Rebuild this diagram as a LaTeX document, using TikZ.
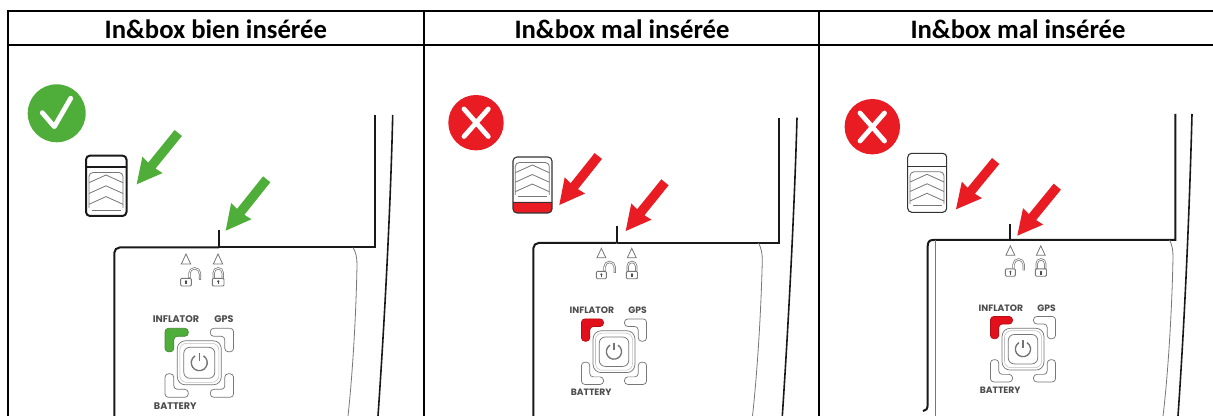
\documentclass[tikz,border=0pt]{standalone}
\usepackage{fontspec}
\setmainfont{Carlito}
\newfontfamily\devfont{Poppins}
\definecolor{okgreen}{HTML}{4FAE3A}
\definecolor{badred}{HTML}{E91C24}
\definecolor{ledred}{HTML}{E2101A}
\definecolor{thingrey}{HTML}{777777}
\tikzset{
  gridline/.style={draw=black,line width=1.5pt},
  devline/.style={draw=black!90,line width=1.5pt},
  thinline/.style={draw=thingrey,line width=.6pt},
  iconline/.style={draw=thingrey,line width=.55pt},
  head/.style={font=\fontsize{20}{22}\selectfont\bfseries,text=black,anchor=center,inner sep=0pt},
  devlabel/.style={font=\devfont\fontsize{#1}{#1}\selectfont\bfseries,text=black!70,anchor=center,inner sep=0pt},
}
\newcommand{\bigarrow}[5]{%
  \pgfmathsetmacro\adx{#3-#1}\pgfmathsetmacro\ady{#4-#2}%
  \pgfmathsetmacro\alen{veclen(\adx,\ady)}%
  \pgfmathsetmacro\aux{\adx/\alen}\pgfmathsetmacro\auy{\ady/\alen}%
  \fill[#5] (#3,#4)
    -- ({#3-\aux*25-\auy*13},{#4-\auy*25+\aux*13})
    -- ({#3-\aux*24-\auy*4.7},{#4-\auy*24+\aux*4.7})
    -- ({#1-\auy*4.7},{#2+\aux*4.7})
    -- ({#1+\auy*4.7},{#2-\aux*4.7})
    -- ({#3-\aux*24+\auy*4.7},{#4-\auy*24-\aux*4.7})
    -- ({#3-\aux*25+\auy*13},{#4-\auy*25-\aux*13})
    -- cycle;}
\newcommand{\chevrons}[3]{% cx, peak y, gap
  \foreach \k in {0,1,2}{
    \draw[thinline] ({#1-17},{#2+7.7+\k*#3}) -- ({#1},{#2+\k*#3}) -- ({#1+17},{#2+7.7+\k*#3});}
  \draw[thinline,rounded corners=3pt] ({#1-17},{#2+2.4*#3+7}) -- ({#1-17},{#2-2.5}) -- ({#1+17},{#2-2.5}) -- ({#1+17},{#2+2.4*#3+7});
  \draw[thinline] ({#1-14.5},{#2+3.3*#3}) -- ({#1+14.5},{#2+3.3*#3});}
\newcommand{\lbutton}[3]{% xsign, ysign, options
  \begin{scope}[xscale=#1,yscale=#2]
    \draw[rounded corners=2.6pt,#3] (-34.3,-11) -- (-34.3,-34.5) -- (-11,-34.5) -- (-11,-26.5) -- (-25.5,-26.5) -- (-25.5,-11) -- cycle;
  \end{scope}}
\newcommand{\devface}[6]{% cx, cy, scale, prefix, led colour, font size
  \begin{scope}[shift={(#1,#2)},scale=#3]
    \draw[iconline,line width=.6pt] (-18,-98.8) -- (-13.3,-108.8) -- (-8.6,-98.8) -- cycle;
    \draw[iconline,line width=.6pt] (14,-98.8) -- (18.7,-108.8) -- (23.4,-98.8) -- cycle;
    \draw[thingrey,line width=1.7pt] (-9.9,-85) -- (-9.9,-89.2) arc[start angle=180,end angle=360,radius=5.3] -- (0.7,-83);
    \draw[white,line width=.6pt] (-9.9,-85.4) -- (-9.9,-89.2) arc[start angle=180,end angle=360,radius=5.3] -- (0.7,-83.4);
    \draw[thingrey,line width=1.7pt] (14.4,-84.5) -- (14.4,-90) arc[start angle=180,end angle=360,radius=4.5] -- (23.4,-84.5);
    \draw[white,line width=.6pt] (14.4,-85) -- (14.4,-90) arc[start angle=180,end angle=360,radius=4.5] -- (23.4,-85);
    \draw[iconline,fill=white,line width=.7pt,rounded corners=.8pt] (-18.6,-84.5) rectangle (-8,-76.8);
    \draw[iconline,fill=white,line width=.7pt,rounded corners=.8pt] (13,-84.5) rectangle (24.7,-76.8);
    \fill[black!70] (-13.3,-81.4) circle (1.3);
    \fill[black!70] (-14,-81) rectangle (-12.6,-78.4);
    \fill[black!70] (18.9,-81.4) circle (1.3);
    \fill[black!70] (18.2,-81) rectangle (19.6,-78.4);
    \node[devlabel=#6] (#4inflator) at (-23.3,-43.5) {INFLATOR};
    \node[devlabel=#6] (#4gps) at (24.7,-43.5) {GPS};
    \node[devlabel=#6] (#4battery) at (-24,42.9) {BATTERY};
    \lbutton{1}{1}{fill=#5,draw=#5!80!black,line width=.5pt}
    \lbutton{-1}{1}{iconline}
    \lbutton{1}{-1}{iconline}
    \lbutton{-1}{-1}{iconline}
    \draw[iconline,rounded corners=6pt] (-22,-22) rectangle (22,22);
    \draw[draw=black!25,line width=.4pt,rounded corners=5pt] (-19.5,-19.5) rectangle (19.5,19.5);
    \draw[iconline,rounded corners=4.5pt] (-15.5,-15.5) rectangle (15.5,15.5);
    \draw[draw=black!55,line width=1pt] (4.2,-6.9) arc[start angle=-58,end angle=238,radius=8];
    \draw[draw=black!55,line width=1pt] (0,-9.5) -- (0,-1.5);
  \end{scope}}
\begin{document}
\begin{tikzpicture}[x=.75pt,y=.75pt,yscale=-1]
\useasboundingbox (0,0) rectangle (1213,416);
\fill[white] (0,0) rectangle (1213,416);
% table
\draw[gridline] (1213,10.8) -- (8,10.8) -- (8,416);
\draw[gridline] (8,44.7) -- (1213,44.7);
\draw[gridline] (423.5,10.8) -- (423.5,416);
\draw[gridline] (818.7,10.8) -- (818.7,416);
\node[head] (h1) at (215.8,29) {In\&box bien insérée};
\node[head] (h2) at (622,29) {In\&box mal insérée};
\node[head] (h3) at (1018,29) {In\&box mal insérée};
% ---- panel 1
\fill[okgreen] (56.7,113.3) circle (29);
\draw[white,line width=3.6pt,line cap=round,line join=round] (42.3,112.7) -- (54.3,126.7) -- (70.7,98.3);
\bigarrow{178.3}{133}{136.7}{184.3}{okgreen}
\bigarrow{266.7}{179.3}{225.7}{230.7}{okgreen}
\chevrons{106}{175}{10.8}
\draw[devline,rounded corners=3pt] (86,155.6) rectangle (126.5,216);
\draw[devline] (86,167) -- (126.5,167);
\draw[devline] (219,230) -- (219,247.5);
\draw[devline,rounded corners=4pt] (114.3,416) -- (114.3,247.5) -- (219,247.5);
\draw[devline] (219,247.5) -- (375.3,247.5) -- (375.3,115);
\draw[devline,line width=1.2pt] (392.7,115) .. controls (391,190) and (386,300) .. (378,416);
\draw[thinline] (353,247.5) .. controls (356,252) and (357,258) .. (357,265) .. controls (356,320) and (352,380) .. (348,416);
\devface{199.3}{362.8}{1}{a}{okgreen}{7.2}
% ---- panel 2
\fill[badred] (476,122.7) circle (27.7);
\draw[white,line width=3.6pt,line cap=round] (464,109) -- (488.3,136.5);
\draw[white,line width=3.6pt,line cap=round] (488.3,109) -- (464,136.5);
\bigarrow{598.3}{156}{559.3}{205}{badred}
\bigarrow{665}{182.3}{625.7}{231}{badred}
\chevrons{532.3}{165}{9.5}
\fill[badred] (513,202) [rounded corners=2.5pt] -- (513,213) -- (552,213) [sharp corners] -- (552,202) -- cycle;
\draw[draw=black!80,line width=.8pt,rounded corners=3pt] (513,157) rectangle (552,213);
\draw[draw=black!80,line width=.6pt] (513,202) -- (552,202);
\draw[devline] (616.7,225.7) -- (616.7,243);
\draw[devline,rounded corners=4pt] (533.3,416) -- (533.3,243) -- (616.7,243);
\draw[devline] (616.7,243) -- (779.3,243) -- (779.3,117.7);
\draw[devline,line width=1.2pt] (797,117.7) .. controls (795,190) and (790,300) .. (782.3,416);
\draw[thinline] (758.3,243) .. controls (761,247) and (762.3,253) .. (762.3,260) .. controls (761,315) and (757,375) .. (752.5,416);
\devface{614}{351.7}{.95}{b}{ledred}{6.9}
% ---- panel 3
\fill[badred] (872.3,126.7) circle (27.7);
\draw[white,line width=3.6pt,line cap=round] (860,113) -- (884.5,141);
\draw[white,line width=3.6pt,line cap=round] (884.5,113) -- (860,141);
\bigarrow{995.7}{161}{956}{209.3}{badred}
\bigarrow{1057.3}{186.7}{1017.3}{235.7}{badred}
\chevrons{927}{174.3}{9.5}
\draw[draw=black!80,line width=.8pt,rounded corners=3pt] (907.7,153.3) rectangle (946.7,212.3);
\draw[draw=black!80,line width=.6pt] (907.7,166.7) -- (946.7,166.7);
\draw[devline] (1009.7,224) -- (1009.7,240);
\draw[devline] (923,411) .. controls (926,411) and (927.7,409) .. (927.7,404) -- (927.7,246) .. controls (927.7,242) and (929.5,240) .. (933,240) -- (1175.3,240) -- (1175.3,114);
\draw[thinline] (935,240) -- (935,416);
\draw[devline,line width=1.2pt] (1192,114) .. controls (1190,190) and (1186,300) .. (1178,416);
\draw[thinline] (1169.3,240) .. controls (1172,244) and (1173,250) .. (1173,257) .. controls (1172,310) and (1168,375) .. (1163,416);
\devface{1023}{349.2}{.95}{c}{ledred}{6.9}
\end{tikzpicture}
\end{document}
